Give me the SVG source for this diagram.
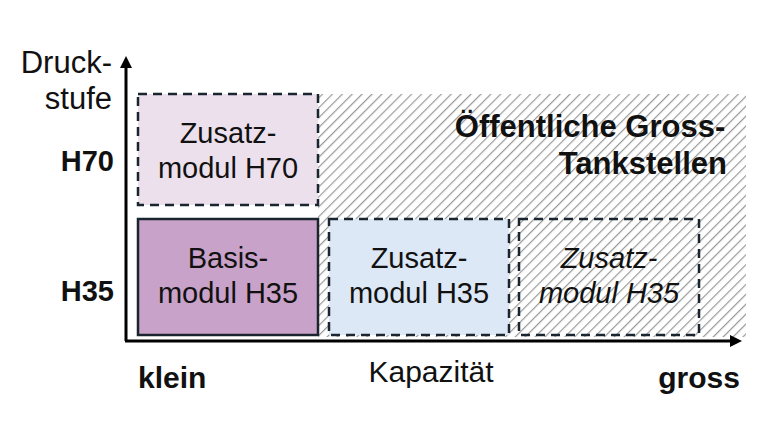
<svg xmlns="http://www.w3.org/2000/svg" width="760" height="440" viewBox="0 0 760 440">
<style>
text{font-family:"Liberation Sans",Arial,sans-serif;fill:#111}
.t{font-size:29px;text-anchor:middle}
.b{font-weight:bold}
.dash{stroke:#1a2530;stroke-width:2.5;stroke-dasharray:9,6}
</style>
<defs>
<pattern id="h" patternUnits="userSpaceOnUse" width="7" height="7" patternTransform="rotate(45)">
<rect width="7" height="7" fill="#fff"/>
<line x1="0" y1="0" x2="0" y2="7" stroke="#999" stroke-width="2.4"/>
</pattern>
<marker id="a" markerWidth="12" markerHeight="12" refX="6" refY="6" orient="auto" markerUnits="userSpaceOnUse"><path d="M0,0 L12,6 L0,12 Z" fill="#000"/></marker>
</defs>
<rect x="318" y="94" width="428" height="243" fill="url(#h)"/>
<text x="590" y="137" font-size="31" class="b" text-anchor="middle">Öffentliche Gross-</text>
<text x="727" y="174" font-size="31" class="b" text-anchor="end">Tankstellen</text>
<g id="n1"><rect x="138" y="94" width="180" height="111" fill="#ece0ec" class="dash"/><text class="t" x="228" y="143">Zusatz-</text><text class="t" x="228" y="178">modul H70</text></g>
<g id="n2"><rect x="138" y="219" width="180" height="116" fill="#c9a2c9" stroke="#1a2530" stroke-width="2.5"/><text class="t" x="228" y="268">Basis-</text><text class="t" x="228" y="303">modul H35</text></g>
<g id="n3"><rect x="329" y="219" width="180" height="116" fill="#dce8f5" class="dash"/><text class="t" x="419" y="268">Zusatz-</text><text class="t" x="419" y="303">modul H35</text></g>
<g id="n4"><rect x="519" y="219" width="180" height="116" fill="url(#h)" class="dash"/><text class="t" x="609" y="268" font-style="italic">Zusatz-</text><text class="t" x="609" y="303" font-style="italic">modul H35</text></g>
<g id="axes">
<line x1="126" y1="341" x2="126" y2="62" stroke="#000" stroke-width="3" marker-end="url(#a)"/>
<line x1="125" y1="341" x2="736" y2="341" stroke="#000" stroke-width="3" marker-end="url(#a)"/>
</g>
<text x="112" y="73" font-size="31" text-anchor="end">Druck-</text>
<text x="112" y="109" font-size="31" text-anchor="end">stufe</text>
<text x="114" y="171" font-size="29" class="b" text-anchor="end">H70</text>
<text x="114" y="301" font-size="29" class="b" text-anchor="end">H35</text>
<text x="138" y="388" font-size="30" class="b">klein</text>
<text x="431" y="382" font-size="30" text-anchor="middle">Kapazität</text>
<text x="740" y="388" font-size="30" class="b" text-anchor="end">gross</text>
</svg>
